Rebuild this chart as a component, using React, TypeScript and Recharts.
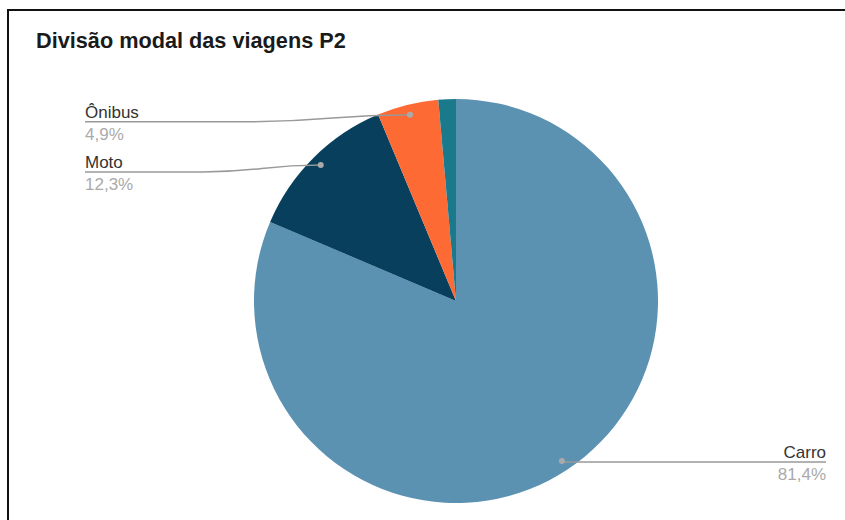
import React from "react";
import { PieChart, Pie, Cell } from "recharts";

const categories = ["Carro", "Moto", "Ônibus", "Outros"];
const shares = [81.4, 12.3, 4.9, 1.4];
const colors = ["#5b91b1", "#073f5c", "#fd6a34", "#1a7a8c"];

const data = categories.map((name, i) => ({ name, value: shares[i] }));

const RAD = Math.PI / 180;
const FONT = "'Liberation Sans', Arial, sans-serif";

function SliceLabel(props: any) {
  const { cx, cy, midAngle, outerRadius, percent, name } = props;
  if (percent < 0.02) return null;
  const r = outerRadius * 0.95;
  const px = cx + r * Math.cos(-midAngle * RAD);
  const py = cy + r * Math.sin(-midAngle * RAD);
  const left = px < cx;
  const endX = left ? 85 : 826;
  const lineY = left ? py + 7 : py + 1;
  const bendX = left ? px - (px - endX) * 0.5 : px;
  const d = `M${px},${py} C${(px + bendX) / 2},${py} ${(px + bendX) / 2},${lineY} ${bendX},${lineY} L${endX},${lineY}`;
  const pct = (percent * 100).toFixed(1).replace(".", ",") + "%";
  const anchor = left ? "start" : "end";
  return (
    <g>
      <path d={d} stroke="#999" strokeWidth={1.5} fill="none" />
      <circle cx={px} cy={py} r={3} fill="#aaa" />
      <text x={endX} y={lineY - 4} textAnchor={anchor} fontFamily={FONT} fontSize={17} fill="#333">
        {name}
      </text>
      <text x={endX} y={lineY + 18} textAnchor={anchor} fontFamily={FONT} fontSize={17} fill="#aaa">
        {pct}
      </text>
    </g>
  );
}

export default function App() {
  return (
    <div style={{ position: "absolute", left: 0, top: 0, width: 845, height: 520, background: "#fff", overflow: "hidden" }}>
      <div
        style={{
          position: "absolute",
          left: 7,
          top: 9,
          right: -10,
          bottom: -10,
          borderTop: "2px solid #111",
          borderLeft: "2px solid #111",
        }}
      />
      <div
        style={{
          position: "absolute",
          left: 36,
          top: 30,
          fontFamily: FONT,
          fontWeight: "bold",
          fontSize: 21.7,
          lineHeight: "21px",
          color: "#1a1a1a",
          whiteSpace: "nowrap",
        }}
      >
        Divisão modal das viagens P2
      </div>
      <div style={{ position: "absolute", left: 0, top: 0 }}>
        <PieChart width={845} height={520} margin={{ top: 0, right: 0, bottom: 0, left: 0 }}>
          <Pie
            data={data}
            dataKey="value"
            nameKey="name"
            cx={456}
            cy={301}
            outerRadius={202}
            startAngle={90}
            endAngle={-270}
            stroke="none"
            label={SliceLabel}
            labelLine={false}
            isAnimationActive={false}
          >
            {data.map((d, i) => (
              <Cell key={d.name} fill={colors[i]} />
            ))}
          </Pie>
        </PieChart>
      </div>
    </div>
  );
}
